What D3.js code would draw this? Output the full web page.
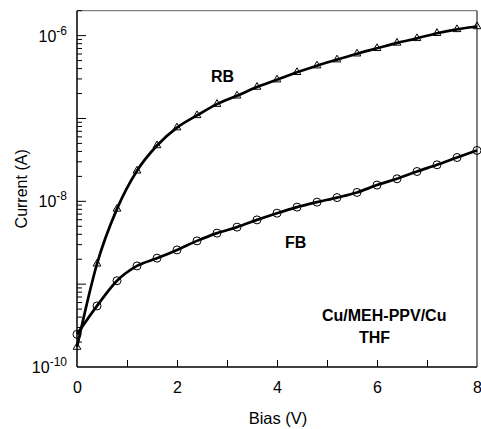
<!DOCTYPE html>
<html>
<head>
<meta charset="utf-8">
<script src="https://cdn.jsdelivr.net/npm/d3@7"></script>
<style>
  body { margin: 0; background: #fff; }
  text { font-family: "Liberation Sans", Arial, sans-serif; }
</style>
</head>
<body>
<svg width="481" height="429"></svg>
<script>
// bias values (V)
var bias = [0, 0.4, 0.8, 1.2, 1.6, 2.0, 2.4, 2.8, 3.2, 3.6, 4.0, 4.4, 4.8, 5.2, 5.6, 6.0, 6.4, 6.8, 7.2, 7.6, 8.0];
// reverse bias current (A), triangles
var rbCurrent = [1.74e-10, 1.76e-9, 8.1e-9, 2.34e-8, 4.72e-8, 7.76e-8, 1.09e-7, 1.49e-7, 1.88e-7, 2.40e-7, 2.94e-7,
                 3.61e-7, 4.34e-7, 5.13e-7, 6.05e-7, 7.03e-7, 8.17e-7, 9.27e-7, 1.07e-6, 1.19e-6, 1.29e-6];
// forward bias current (A), circles
var fbCurrent = [2.48e-10, 5.46e-10, 1.10e-9, 1.66e-9, 2.06e-9, 2.59e-9, 3.33e-9, 4.13e-9, 4.88e-9, 5.97e-9, 7.19e-9,
                 8.51e-9, 9.77e-9, 1.11e-8, 1.28e-8, 1.57e-8, 1.87e-8, 2.29e-8, 2.76e-8, 3.38e-8, 4.11e-8];
var xMinorTicks = [1, 2, 3, 4, 5, 6, 7];
var xLabelTicks = [0, 2, 4, 6, 8];
var yLabelExps = [-10, -8, -6];

var pLeft = 77, pRight = 477, pTop = 10.7, pBottom = 367;

var x = d3.scaleLinear().domain([0, 8]).range([pLeft, pRight]);
var y = d3.scaleLog().domain([1e-10, 2e-6]).range([pBottom, pTop]);

var svg = d3.select("svg");

// frame
svg.append("line").attr("x1", pLeft).attr("x2", pRight).attr("y1", pTop).attr("y2", pTop)
  .style("stroke", "#666").style("stroke-width", 1);
svg.append("line").attr("x1", pRight).attr("x2", pRight).attr("y1", pTop).attr("y2", pBottom)
  .style("stroke", "#000").style("stroke-width", 1);

// x axis ticks (inside)
svg.append("g")
  .attr("transform", "translate(0," + pBottom + ")")
  .call(d3.axisBottom(x).tickValues(xMinorTicks).tickSize(-7).tickFormat(""))
  .call(function(g) { g.select(".domain").remove(); g.selectAll("line").style("stroke", "#000"); });
var xl = svg.append("g")
  .attr("transform", "translate(0," + pBottom + ")")
  .call(d3.axisBottom(x).tickValues(xLabelTicks).tickSize(0).tickPadding(15).tickFormat(d3.format("d")));
xl.select(".domain").remove();
xl.selectAll("text").style("font-size", "16px").style("font-family", "Liberation Sans, Arial, sans-serif").attr("fill", "#000");

// y ticks (inside, log)
var yTicks = [];
for (var e = -10; e <= -6; e++) {
  for (var m = 1; m <= 9; m++) {
    var v = m * Math.pow(10, e);
    if (v > 2e-6 || v <= 1e-10) continue;
    yTicks.push({v: v, major: m === 1});
  }
}
svg.append("g").selectAll("line").data(yTicks).enter().append("line")
  .attr("x1", pLeft).attr("x2", function(d) { return pLeft + (d.major ? 9 : 5); })
  .attr("y1", function(d) { return y(d.v); }).attr("y2", function(d) { return y(d.v); })
  .style("stroke", "#000").style("stroke-width", 1);

// y labels 10^n
var yl = svg.append("g").selectAll("text").data(yLabelExps).enter().append("text")
  .attr("x", 67).attr("y", function(d) { return y(Math.pow(10, d)) + 6; })
  .attr("text-anchor", "end").style("font-size", "16px");
yl.append("tspan").text("10");
yl.append("tspan").attr("dy", -7).style("font-size", "12px").text(function(d) { return d; });

// axes lines
svg.append("line").attr("x1", pLeft).attr("x2", pLeft).attr("y1", pTop).attr("y2", pBottom)
  .style("stroke", "#000").style("stroke-width", 1.5);
svg.append("line").attr("x1", pLeft).attr("x2", pRight).attr("y1", pBottom).attr("y2", pBottom)
  .style("stroke", "#000").style("stroke-width", 1.5);

// axis titles
svg.append("text").attr("x", 278).attr("y", 424).attr("text-anchor", "middle")
  .style("font-size", "16.5px").text("Bias (V)");
svg.append("text").attr("transform", "translate(26.5," + ((pTop + pBottom) / 2) + ") rotate(-90)")
  .attr("text-anchor", "middle").style("font-size", "16px").text("Current (A)");

// curves
var line = d3.line().curve(d3.curveMonotoneX)
  .x(function(d) { return x(d[0]); }).y(function(d) { return y(d[1]); });
var rb = bias.map(function(b, i) { return [b, rbCurrent[i]]; });
var fb = bias.map(function(b, i) { return [b, fbCurrent[i]]; });

[rb, fb].forEach(function(s) {
  svg.append("path").datum(s).attr("d", line)
    .style("fill", "none").style("stroke", "#000").style("stroke-width", 2.7);
});

svg.append("g").selectAll("path").data(rb).enter().append("path")
  .attr("d", d3.symbol().type(d3.symbolTriangle).size(26))
  .attr("transform", function(d) { return "translate(" + x(d[0]) + "," + y(d[1]) + ")"; })
  .style("fill", "none").style("stroke", "#000").style("stroke-width", 1);
svg.append("g").selectAll("circle").data(fb).enter().append("circle")
  .attr("cx", function(d) { return x(d[0]); }).attr("cy", function(d) { return y(d[1]); })
  .attr("r", 4)
  .style("fill", "none").style("stroke", "#000").style("stroke-width", 1);

// annotations
function label(t, px, py) {
  svg.append("text").attr("x", px).attr("y", py)
    .style("font-size", "16px").style("font-weight", "bold").text(t);
}
label("RB", 211, 82);
label("FB", 285, 248);
label("Cu/MEH-PPV/Cu", 322, 321);
label("THF", 359, 343);
</script>
</body>
</html>
